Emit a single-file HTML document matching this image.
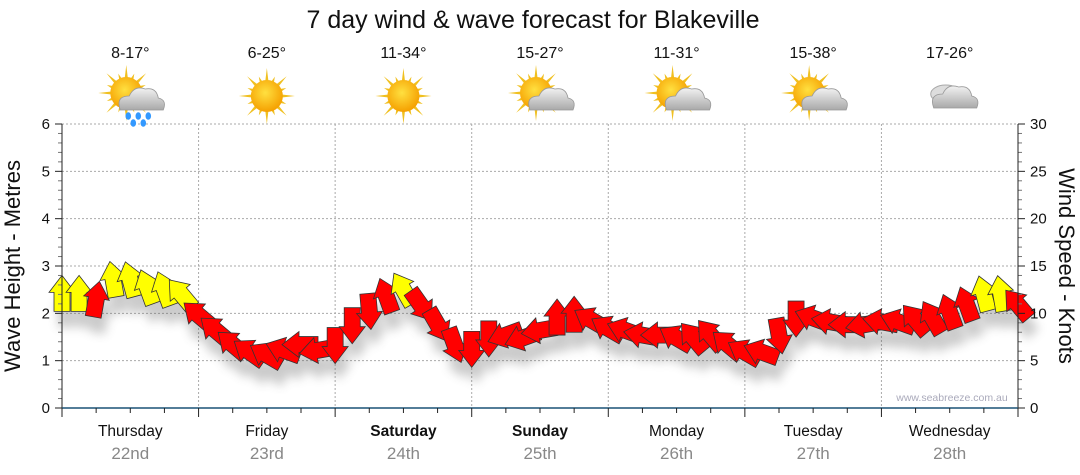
<!DOCTYPE html>
<html><head><meta charset="utf-8">
<style>
html,body{margin:0;padding:0;background:#fff;}
svg{display:block;font-family:"Liberation Sans",sans-serif;}
</style></head>
<body>
<svg id="chart" width="1080" height="475" viewBox="0 0 1080 475">
<defs>
<filter id="sh" x="-50%" y="-50%" width="200%" height="200%"><feGaussianBlur stdDeviation="5"/></filter>
<radialGradient id="sun" cx="45%" cy="40%" r="60%"><stop offset="0" stop-color="#ffe040"/><stop offset="1" stop-color="#f5a000"/></radialGradient>
<linearGradient id="cloud" x1="0" y1="0" x2="0" y2="1"><stop offset="0" stop-color="#f2f2f2"/><stop offset="1" stop-color="#a9a9a9"/></linearGradient>
</defs>
<text x="533" y="28" font-size="25" text-anchor="middle" fill="#111">7 day wind &amp; wave forecast for Blakeville</text>
<g id="grid"></g>
<g id="shadows" filter="url(#sh)" opacity="0.3"></g>
<g id="arrows"></g>
<g id="axes"></g>
<g id="icons"></g>
<text x="952" y="401" font-size="10.5" fill="#aab" text-anchor="middle">www.seabreeze.com.au</text>
<text transform="translate(20,266) rotate(-90)" font-size="22" text-anchor="middle" fill="#111">Wave Height - Metres</text>
<text transform="translate(1059,266) rotate(90)" font-size="22" text-anchor="middle" fill="#111">Wind Speed - Knots</text>
</svg>
<script>
const days = ["Thursday","Friday","Saturday","Sunday","Monday","Tuesday","Wednesday"];
const dates = ["22nd","23rd","24th","25th","26th","27th","28th"];
const boldDays = [false,false,true,true,false,false,false];
const temps = ["8-17°","6-25°","11-34°","15-27°","11-31°","15-38°","17-26°"];
const weather = ["rain","sun","sun","partly","partly","partly","cloud"];
const metreTicks = [0,1,2,3,4,5,6];
const knotTicks = [0,5,10,15,20,25,30];
// wind every 3 hours
const windKnots = [12,12,11.4,13.5,13.5,12.7,12.5,12,9.8,8.2,6.7,5.9,5.6,6.1,6.7,6.1,6.7,8.8,10.3,11.8,12.5,10.9,8.8,6.7,6.3,7.4,7.7,7.4,8.2,9.5,9.8,9.3,8.4,8.2,7.7,7.7,7.4,7.4,7.7,6.7,5.9,5.9,7.7,9.5,9.5,9.1,8.8,8.8,9.1,9.1,9.3,9.5,10.1,10.9,12,12,10.9];
const windDir = [0,0,10,-10,-15,-20,-20,-40,-50,-50,-50,-55,-60,-70,-90,-100,180,180,175,-20,-30,145,150,160,180,180,-110,-110,-100,0,0,-60,-60,-70,-80,-90,-60,-40,-40,-50,-60,-70,170,180,-70,-80,-90,-100,-80,-70,-40,-30,-20,-20,-15,-10,-40];

const svg=document.getElementById('chart');
const NS="http://www.w3.org/2000/svg";
const X0=62,X1=1018,Y0=408,Y6=124;
const dayW=(X1-X0)/7;
function xHour(h){return X0+h*(X1-X0)/168;}
function yM(m){return Y0-(Y0-Y6)*m/6;}
function yK(k){return yM(k/5);}
function el(tag,attrs,parent,txt){const e=document.createElementNS(NS,tag);for(const k in attrs)e.setAttribute(k,attrs[k]);if(txt!==undefined)e.textContent=txt;parent.appendChild(e);return e;}

const grid=document.getElementById('grid'),axes=document.getElementById('axes');
metreTicks.forEach(m=>{
  if(m>0){const g=el('line',{x1:X0,x2:X1,y1:yM(m),y2:yM(m),stroke:'#aaa','stroke-dasharray':'2,2'},grid);
  
  }
  const t=el('text',{x:50,y:yM(m)+5,'font-size':15,'text-anchor':'end',fill:'#111'},axes,String(m));
  
  
});
knotTicks.forEach(k=>{
  const t=el('text',{x:1030,y:yK(k)+5,'font-size':15,fill:'#111'},axes,String(k));
  
  
});
for(let i=0;i<=30;i++){const y=Y0-(Y0-Y6)*i/30;const L=i%5===0?7:4;
  el('line',{x1:X0-L,x2:X0,y1:y,y2:y,stroke:i%5===0?'#222':'#777'},axes);
  el('line',{x1:X1,x2:X1+L,y1:y,y2:y,stroke:i%5===0?'#222':'#777'},axes);}
el('line',{x1:X0,x2:X0,y1:Y6,y2:Y0+6,stroke:'#222'},axes);
el('line',{x1:X1,x2:X1,y1:Y6,y2:Y0,stroke:'#222'},axes);
el('line',{x1:X0,x2:X1,y1:Y0,y2:Y0,stroke:'#1a5276','stroke-width':1.5},axes);
for(let q=0;q<=28;q++){const x=X0+q*dayW/4;
  el('line',{x1:x,x2:x,y1:Y0,y2:Y0+(q%4===0?9:5),stroke:'#222'},axes);}
days.forEach((d,i)=>{
  const cx=X0+dayW*(i+0.5);
  if(i>0){const v=el('line',{x1:X0+dayW*i,x2:X0+dayW*i,y1:Y6,y2:Y0,stroke:'#aaa','stroke-dasharray':'2,2'},grid);
  
  }
  const t=el('text',{x:cx,y:436,'font-size':15.5,'text-anchor':'middle',fill:'#111','font-weight':boldDays[i]?'bold':'normal'},axes,d);
  
  
  const t2=el('text',{x:cx,y:459,'font-size':17,'text-anchor':'middle',fill:'#888'},axes,dates[i]);
  
  
  const t3=el('text',{x:cx,y:58,'font-size':16,'text-anchor':'middle',fill:'#111'},axes,temps[i]);
  
  
  const ic=el('g',{transform:`translate(${cx},${96})`},document.getElementById('icons'));
  
  
  const w=weather[i];
  if(w!=='cloud'){
    const sx=w==='sun'?0:-4,sy=w==='sun'?0:-3;
    for(let r=0;r<16;r++){const a=r*Math.PI/8,L=r%2?21:28;
      el('polygon',{points:`${sx+Math.cos(a-0.12)*14},${sy+Math.sin(a-0.12)*14} ${sx+Math.cos(a)*L},${sy+Math.sin(a)*L} ${sx+Math.cos(a+0.12)*14},${sy+Math.sin(a+0.12)*14}`,fill:'#f0c020'},ic);}
    el('circle',{cx:sx,cy:sy,r:16,fill:'url(#sun)'},ic);
  }
  if(w!=='sun'){
    const ox=w==='cloud'?4:10,oy=w==='cloud'?0:2;
    if(w==='cloud'){el('ellipse',{cx:-4,cy:-2,rx:15,ry:9,fill:'#ddd',stroke:'#aaa'},ic);}
    el('path',{d:`M${ox-20},${oy+12} q-5,-14 9,-14 q5,-11 16,-7 q11,-2 13,9 q9,2 5,12 z`,fill:'url(#cloud)',stroke:'#999','stroke-width':0.8},ic);
    if(w==='rain'){[[-12,20],[-2,20],[8,20],[-7,27],[3,27]].forEach(p=>el('ellipse',{cx:p[0]+ox,cy:p[1]+oy-2,rx:2.8,ry:3.8,fill:'#39f'},ic));}
  }
});

const arrowPts="-8,17 -8,-2 -13,-2 0,-19 13,-2 8,-2 8,17";
const sh=document.getElementById('shadows'),ar=document.getElementById('arrows');
windKnots.forEach((k,i)=>{
  const x=xHour(i*3),y=yK(k);
  const s=el('polygon',{points:arrowPts,transform:`translate(${x+4},${y+16}) rotate(${windDir[i]})`,fill:'#555'},sh);
  
  
});
windKnots.forEach((k,i)=>{
  const x=xHour(i*3),y=yK(k);
  const a=el('polygon',{points:arrowPts,transform:`translate(${x},${y}) rotate(${windDir[i]})`,fill:k>=11.9?'#ffff00':'#ff0000',stroke:'#333','stroke-width':0.8},ar);
  
  
});
</script>
</body></html>
